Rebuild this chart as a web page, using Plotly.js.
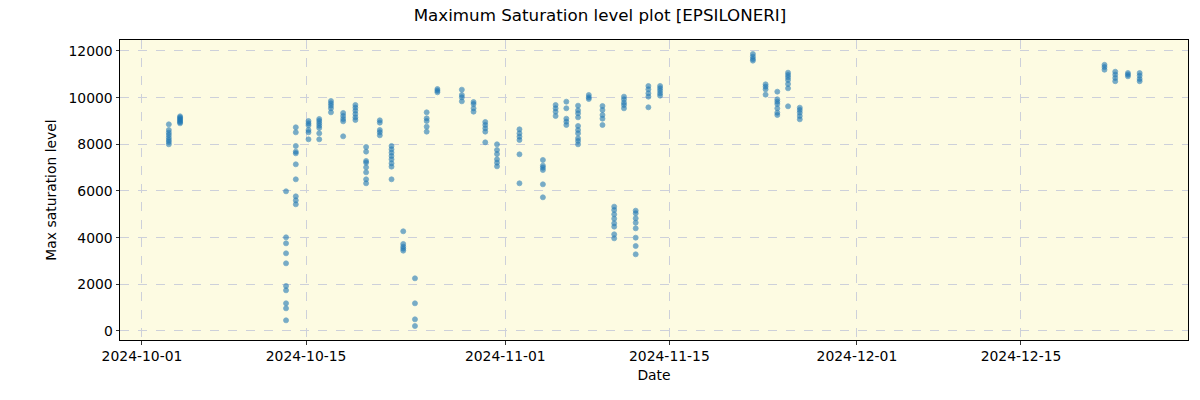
<!DOCTYPE html>
<html>
<head>
<meta charset="utf-8">
<script src="https://cdn.plot.ly/plotly-3.0.1.min.js"></script>
<style>html,body{margin:0;padding:0;background:#fff;}#chart{width:1200px;height:400px;}</style>
</head>
<body>
<div id="chart"></div>
<script>
// Observation timestamps (one per night) and the saturation levels measured that night
const nights = [
  "2024-10-03 07:00", "2024-10-04 06:00", "2024-10-13 07:00", "2024-10-14 03:00",
  "2024-10-15 05:00", "2024-10-16 03:00", "2024-10-17 03:00", "2024-10-18 04:00",
  "2024-10-19 05:00", "2024-10-20 03:00", "2024-10-21 07:00", "2024-10-22 07:00",
  "2024-10-23 07:00", "2024-10-24 07:00", "2024-10-25 07:00", "2024-10-26 05:00",
  "2024-10-28 07:00", "2024-10-29 07:00", "2024-10-30 07:00", "2024-10-31 07:00",
  "2024-11-02 05:00", "2024-11-04 05:00", "2024-11-05 07:00", "2024-11-06 05:00",
  "2024-11-07 05:00", "2024-11-08 03:00", "2024-11-09 07:00", "2024-11-10 07:00",
  "2024-11-11 03:00", "2024-11-12 03:00", "2024-11-13 05:00", "2024-11-14 05:00",
  "2024-11-22 03:00", "2024-11-23 05:00", "2024-11-24 05:00", "2024-11-25 03:00",
  "2024-11-26 03:00", "2024-12-22 03:00", "2024-12-23 01:00", "2024-12-24 03:00",
  "2024-12-25 03:00"
];
const levels = [
  [8857, 8614, 8500, 8400, 8286, 8186, 8100, 8000],
  [9200, 9150, 9100, 9050, 9000, 8950, 8900],
  [5986, 4014, 3757, 3329, 2900, 1929, 1743, 1186, 971, 457],
  [8729, 8514, 7929, 7686, 7614, 7143, 6500, 5771, 5600, 5429],
  [9000, 8900, 8814, 8614, 8514, 8214],
  [9086, 9000, 8900, 8800, 8700, 8471, 8214],
  [9857, 9757, 9657, 9543, 9371],
  [9343, 9214, 9086, 8986, 8343],
  [9686, 9571, 9443, 9300, 9157, 9043],
  [7886, 7686, 7286, 7214, 7014, 6800, 6500, 6329],
  [9029, 8929, 8614, 8514, 8386],
  [7929, 7786, 7643, 7500, 7357, 7186, 7043, 6500],
  [4272, 3729, 3614, 3529, 3443],
  [2257, 1186, 500, 214],
  [9371, 9114, 9000, 8757, 8543],
  [10371, 10300, 10229],
  [10343, 10114, 10014, 9843],
  [9814, 9729, 9543, 9400],
  [8957, 8829, 8686, 8543, 8086],
  [8000, 7757, 7586, 7357, 7214, 7057],
  [8643, 8471, 8329, 8186, 7571, 6329],
  [7329, 7086, 7000, 6900, 6286, 5729],
  [9686, 9543, 9400, 9214],
  [9829, 9543, 9100, 8971, 8829],
  [9657, 9457, 9329, 9157, 8786, 8614, 8471, 8257, 8143, 8000],
  [10114, 10014, 9943],
  [9643, 9471, 9257, 9100, 8829],
  [5329, 5186, 5000, 4814, 4614, 4471, 4143, 3971],
  [10043, 9929, 9786, 9686, 9543],
  [5157, 5043, 4829, 4643, 4400, 4000, 3643, 3286],
  [10500, 10357, 10186, 10043, 9586],
  [10500, 10400, 10300, 10186, 10086],
  [11871, 11757, 11657, 11586],
  [10571, 10471, 10357, 10129],
  [10257, 9929, 9829, 9729, 9543, 9357, 9257],
  [11071, 10971, 10871, 10757, 10586, 10400, 9629],
  [9571, 9471, 9357, 9214, 9071],
  [11408, 11310, 11197],
  [11113, 10986, 10845, 10704],
  [11056, 10986, 10915],
  [11056, 10944, 10803, 10704]
];
const xTickVals = ["2024-10-01", "2024-10-15", "2024-11-01", "2024-11-15", "2024-12-01", "2024-12-15"];
const xTickText = ["2024-10-01", "2024-10-15", "2024-11-01", "2024-11-15", "2024-12-01", "2024-12-15"];
const yTickVals = [0, 2000, 4000, 6000, 8000, 10000, 12000];

const xs = [], ys = [];
nights.forEach((d, i) => levels[i].forEach(v => { xs.push(d); ys.push(v); }));

const font = "DejaVu Sans, sans-serif";
const trace = {
  x: xs, y: ys, type: "scatter", mode: "markers",
  marker: { color: "#1f77b4", size: 5, opacity: 0.6, line: { color: "#1f77b4", width: 0.8 } },
  hoverinfo: "x+y"
};
const layout = {
  width: 1200, height: 400,
  margin: { l: 120, r: 12, t: 40, b: 60 },
  paper_bgcolor: "#ffffff",
  plot_bgcolor: "#fdfbe2",
  showlegend: false,
  title: { text: "Maximum Saturation level plot [EPSILONERI]", x: 0.5, xanchor: "center", y: 0.976, yanchor: "top",
           font: { family: font, size: 16.7, color: "#000" } },
  xaxis: {
    type: "date", range: ["2024-09-29 03:00", "2024-12-29 06:00"],
    tickvals: xTickVals, ticktext: xTickText,
    showgrid: true, gridcolor: "#cdd0da", griddash: "dash", gridwidth: 1,
    zeroline: false, showline: true, linecolor: "#000", linewidth: 1, mirror: true,
    ticks: "outside", ticklen: 3.5, tickcolor: "#000", tickwidth: 0.8,
    tickfont: { family: font, size: 13.9, color: "#000" },
    title: { text: "Date", font: { family: font, size: 13.9, color: "#000" }, standoff: 7 }
  },
  yaxis: {
    range: [-386, 12471],
    tickvals: yTickVals, tickformat: "d",
    showgrid: true, gridcolor: "#cdd0da", griddash: "dash", gridwidth: 1,
    zeroline: false, showline: true, linecolor: "#000", linewidth: 1, mirror: true,
    ticks: "outside", ticklen: 3.5, tickcolor: "#000", tickwidth: 0.8,
    tickfont: { family: font, size: 13.9, color: "#000" },
    title: { text: "Max saturation level", font: { family: font, size: 13.9, color: "#000" }, standoff: 8 }
  }
};
Plotly.newPlot("chart", [trace], layout, { displayModeBar: false, staticPlot: true });
</script>
</body>
</html>
